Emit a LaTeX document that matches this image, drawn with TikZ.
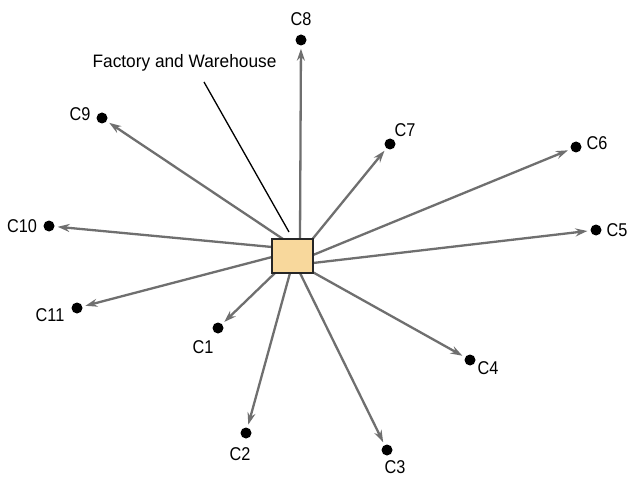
\documentclass[tikz,border=0pt]{standalone}
\usepackage{fontspec}
\setmainfont{Liberation Sans}
\newfontfamily\condfont{Liberation Sans}[FakeStretch=0.88]
\newfontfamily\labfont{Liberation Sans}[FakeStretch=0.96]
\usetikzlibrary{arrows.meta,calc}
\definecolor{boxfill}{HTML}{F8D89C}
\definecolor{arrgray}{HTML}{6F6F6F}
\tikzset{
  dot/.style={circle,fill=black,draw=none,minimum size=11pt,inner sep=0pt},
  clab/.style={inner sep=0pt,font=\condfont\fontsize{18.5}{20}\selectfont},
  arr/.style={draw=arrgray,line width=2.3pt,
    -{Stealth[length=12pt,width=8pt,inset=4pt]},shorten >=3pt},
  hub/.style={draw=black!85,line width=1.5pt,fill=boxfill,minimum width=41pt,minimum height=34pt,inner sep=0pt},
}
\begin{document}
\begin{tikzpicture}[x=1pt,y=-1pt]
\useasboundingbox[fill=white] (0,0) rectangle (628,478);
% customers
\node[dot] (c1) at (218,328) {};
\node[dot] (c2) at (246,433) {};
\node[dot] (c3) at (387,450) {};
\node[dot] (c4) at (470,360) {};
\node[dot] (c5) at (596,230) {};
\node[dot] (c6) at (576,147) {};
\node[dot] (c7) at (390,144) {};
\node[dot] (c8) at (301,40) {};
\node[dot] (c9) at (102,118) {};
\node[dot] (c10) at (49,226) {};
\node[dot] (c11) at (77,308) {};
% labels
\node[clab] (l1) at (203,347) {C1};
\node[clab] (l2) at (240,454) {C2};
\node[clab] (l3) at (395,467) {C3};
\node[clab] (l4) at (488,368) {C4};
\node[clab] (l5) at (617,230) {C5};
\node[clab] (l6) at (597,143) {C6};
\node[clab] (l7) at (405,130) {C7};
\node[clab] (l8) at (301,19) {C8};
\node[clab] (l9) at (80,114) {C9};
\node[clab] (l10) at (22,226) {C10};
\node[clab] (l11) at (50,315) {C11};
% hub position
\coordinate (hc) at (292.5,256);
% arrows (start on hub border)
\draw[arr] ($(hc)+(-9.5,-17)$) -- (c9);
\draw[arr] ($(hc)+(7.5,-17)$) -- (c8);
\draw[arr] ($(hc)+(20,-17)$) -- (c7);
\draw[arr] ($(hc)+(20.5,-1)$) -- (c6);
\draw[arr] ($(hc)+(20.5,7)$) -- (c5);
\draw[arr] ($(hc)+(20,16)$) -- (c4);
\draw[arr] ($(hc)+(7.5,17)$) -- (c3);
\draw[arr] ($(hc)+(-2.5,17)$) -- (c2);
\draw[arr] ($(hc)+(-17.5,17)$) -- (c1);
\draw[arr] ($(hc)+(-20.5,1)$) -- (c11);
\draw[arr] ($(hc)+(-20.5,-9)$) -- (c10);
% hub
\node[hub] (hub) at (hc) {};
% title and leader
\node[anchor=base,inner sep=0pt,font=\labfont\fontsize{18}{20}\selectfont] (title) at (184.5,68) {Factory and Warehouse};
\coordinate (lead) at (289,232);
\draw[black,line width=1.3pt] (204,82) -- (lead);
\end{tikzpicture}
\end{document}
